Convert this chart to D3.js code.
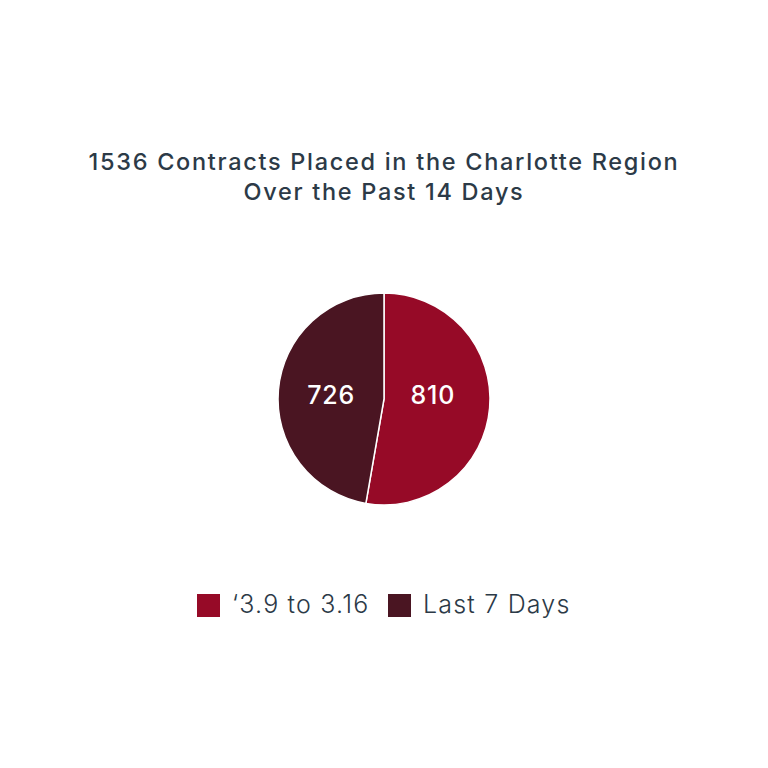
<!DOCTYPE html>
<html><head><meta charset="utf-8">
<script src="https://cdn.jsdelivr.net/npm/d3@7"></script>
<style>body{margin:0;background:#fff;}svg{display:block;}</style>
</head><body>
<svg id="chart" width="768" height="768"></svg>
<script>
const categories = ["\u20183.9 to 3.16", "Last 7 Days"];
const values = [810, 726];
const titleLines = ["1536 Contracts Placed in the Charlotte Region", "Over the Past 14 Days"];
const colors = ["#960a27", "#4a1522"];

const svg = d3.select("#chart");
const W = 768, cx = 384, cy = 399, R = 106;
const textColor = "#2c3a47";
const font = "Inter, 'Open Sans', sans-serif";

svg.append("rect").attr("width", W).attr("height", W).attr("fill", "#fff");

svg.selectAll("text.title").data(titleLines).enter().append("text")
  .attr("class", "title")
  .attr("x", W / 2).attr("y", (d, i) => 170 + i * 30)
  .attr("text-anchor", "middle")
  .attr("font-family", font).attr("font-weight", 550).attr("font-size", 23.5)
  .attr("letter-spacing", 1.7)
  .attr("fill", textColor).text(d => d);

const color = d3.scaleOrdinal().domain(categories).range(colors);
const pie = d3.pie().sort(null).value(d => d.v);
const data = pie(categories.map((c, i) => ({c, v: values[i]})));
const arc = d3.arc().innerRadius(0).outerRadius(R);
const labelArc = d3.arc().innerRadius(51).outerRadius(51);

const g = svg.append("g").attr("transform", `translate(${cx},${cy})`);
g.selectAll("path").data(data).enter().append("path")
  .attr("d", arc).attr("fill", d => color(d.data.c))
  .attr("stroke", "#fff").attr("stroke-width", 1.5);

g.selectAll("text.lbl").data(data).enter().append("text")
  .attr("class", "lbl")
  .attr("x", d => labelArc.centroid(d)[0] - 2)
  .attr("y", -4)
  .attr("text-anchor", "middle").attr("dominant-baseline", "central")
  .attr("font-family", font).attr("font-weight", 500).attr("font-size", 25)
  .attr("letter-spacing", 0.8)
  .attr("fill", "#fff").text(d => d.data.v);

// legend
const legend = svg.append("g");
const items = [{x: 197, c: categories[0]}, {x: 388, c: categories[1]}];
items.forEach(it => {
  legend.append("rect").attr("x", it.x).attr("y", 594).attr("width", 23).attr("height", 23)
    .attr("fill", color(it.c));
  legend.append("text").attr("x", it.x + 35).attr("y", 613)
    .attr("font-family", font).attr("font-weight", 350).attr("font-size", 25)
    .attr("letter-spacing", 1.2)
    .attr("fill", textColor).text(it.c);
});
</script>
</body></html>
